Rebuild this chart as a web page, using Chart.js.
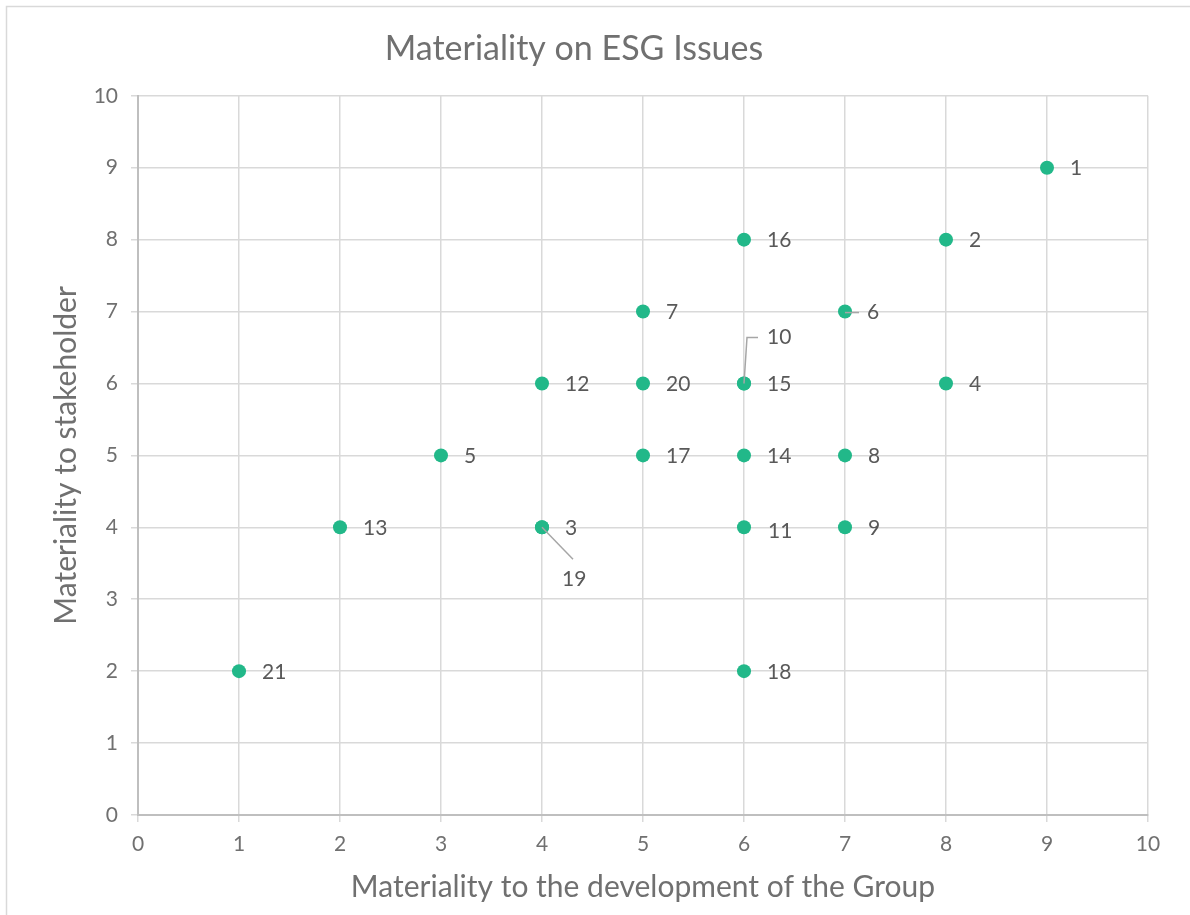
<!DOCTYPE html>
<html lang="en">
<head>
<meta charset="UTF-8">
<title>Materiality on ESG Issues</title>
<style>
  html, body { margin: 0; padding: 0; background: #fff; overflow: hidden; }
  #wrap { width: 1190px; height: 915px; }
</style>
</head>
<body>
<div id="wrap"><canvas id="esgChart" width="1190" height="915"></canvas></div>
<script src="https://cdn.jsdelivr.net/npm/chart.js"></script>
<script>
// issue numbers and their two scores
const issueIds = ['1', '2', '3', '4', '5', '6', '7', '8', '9', '10', '11',
                  '12', '13', '14', '15', '16', '17', '18', '19', '20', '21'];
const groupScores =       [9, 8, 4, 8, 3, 7, 5, 7, 7, 6, 6, 4, 2, 6, 6, 6, 5, 6, 4, 5, 1];
const stakeholderScores = [9, 8, 4, 6, 5, 7, 7, 5, 4, 6, 4, 6, 4, 5, 6, 8, 5, 2, 4, 6, 2];
const axisMin = 0;
const axisMax = 10;
const axisStep = 1;

const textGrey = '#707070';
const labelGrey = '#595959';
const fontName = 'Lato, "Open Sans", sans-serif';

// labels that Excel moved away from their point (pixel offsets, with leader lines)
const labelMoves = {
    '6':  { dx: 22, dy: 1, leader: [[0, 1], [14, 1]] },
    '10': { dx: 23, dy: -46, leader: [[0, 0], [3, -46], [14, -46]] },
    '11': { dx: 24, dy: 4 },
    '19': { dx: 20, dy: 52, leader: [[0, 0], [31, 32]] }
};

const frame = {
    id: 'frame',
    beforeDraw(chart) {
        const c = chart.ctx;
        c.save();
        c.strokeStyle = '#d9d9d9';
        c.lineWidth = 1.5;
        c.strokeRect(6.5, 6.5, 1400, 1400);
        c.restore();
    }
};

const pointLabels = {
    id: 'pointLabels',
    afterDatasetsDraw(chart) {
        const c = chart.ctx;
        const xs = chart.scales.x;
        const ys = chart.scales.y;
        c.save();
        c.font = '21px ' + fontName;
        c.fillStyle = labelGrey;
        c.textAlign = 'left';
        c.textBaseline = 'middle';
        issueIds.forEach((id, i) => {
            const px = xs.getPixelForValue(groupScores[i]);
            const py = ys.getPixelForValue(stakeholderScores[i]);
            const move = labelMoves[id] || { dx: 23, dy: 1 };
            if (move.leader) {
                c.strokeStyle = '#a6a6a6';
                c.lineWidth = 1.5;
                c.beginPath();
                move.leader.forEach(([lx, ly], k) => {
                    if (k === 0) c.moveTo(px + lx, py + ly);
                    else c.lineTo(px + lx, py + ly);
                });
                c.stroke();
            }
            c.fillText(id, px + move.dx, py + move.dy);
        });
        c.restore();
    }
};

new Chart(document.getElementById('esgChart'), {
    type: 'scatter',
    data: {
        datasets: [{
            label: 'ESG issues',
            data: issueIds.map((id, i) => ({ x: groupScores[i], y: stakeholderScores[i] })),
            backgroundColor: '#22b889',
            borderWidth: 0,
            pointRadius: 7,
            pointHoverRadius: 7
        }]
    },
    options: {
        responsive: false,
        animation: false,
        layout: { padding: { top: 0, right: 42, bottom: 0, left: 0 } },
        plugins: {
            legend: { display: false },
            tooltip: { enabled: false },
            title: {
                display: true,
                text: 'Materiality on ESG Issues',
                color: textGrey,
                font: { family: fontName, size: 34, weight: 'normal' },
                padding: { top: 29, bottom: 26 }
            }
        },
        scales: {
            x: {
                type: 'linear',
                min: axisMin,
                max: axisMax,
                afterFit: s => { s.height = 100; },
                ticks: {
                    stepSize: axisStep,
                    color: textGrey,
                    padding: 10,
                    font: { family: fontName, size: 21 }
                },
                grid: { color: '#d9d9d9', lineWidth: 1.5, tickLength: 7 },
                border: { color: '#bfbfbf', width: 2 },
                title: {
                    display: true,
                    text: 'Materiality to the development of the Group',
                    color: textGrey,
                    font: { family: fontName, size: 30 },
                    padding: { top: 0, bottom: 10 }
                }
            },
            y: {
                type: 'linear',
                min: axisMin,
                max: axisMax,
                afterFit: s => { s.width = 138; },
                ticks: {
                    stepSize: axisStep,
                    color: textGrey,
                    padding: 13,
                    font: { family: fontName, size: 21 }
                },
                grid: { color: '#d9d9d9', lineWidth: 1.5, tickLength: 7 },
                border: { color: '#bfbfbf', width: 2 },
                title: {
                    display: true,
                    text: 'Materiality to stakeholder',
                    color: textGrey,
                    font: { family: fontName, size: 30 },
                    padding: { top: 48, bottom: 0 }
                }
            }
        }
    },
    plugins: [frame, pointLabels]
});
</script>
</body>
</html>
